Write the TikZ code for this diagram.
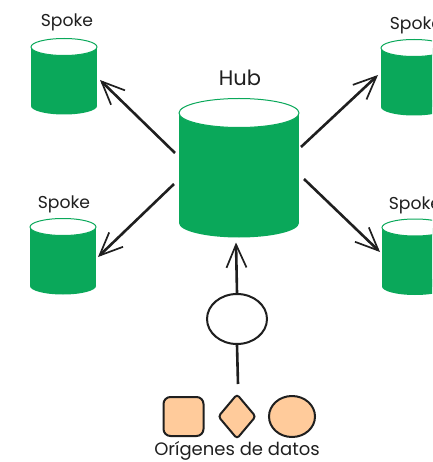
\documentclass[tikz,border=0pt]{standalone}
\usepackage{fontspec}
\setmainfont{Poppins}
\usetikzlibrary{shapes.geometric,arrows.meta}
\definecolor{store}{HTML}{0AA85A}
\definecolor{source}{HTML}{FFCB9B}
\colorlet{fg}{black!88}
\tikzset{
	db/.style={inner sep=0pt,outer sep=0pt},
	link/.style={draw=fg,line width=2.6pt,-{Straight Barb[length=23pt,width=20pt,line width=1.7pt]}},
	src/.style={draw=fg,fill=source,line width=2pt,inner sep=0pt},
	caption/.style={text=fg,inner sep=0pt,font=\fontsize{17.2}{18}\selectfont}
}

\begin{document}
\begin{tikzpicture}[x=1pt,y=-1pt]
	    \useasboundingbox (0,0) rectangle (432,462);
	    \clip (0,0) rectangle (432,462);
	    \foreach \name/\cx/\cy/\rx/\ry/\hh in {hub/239/168/60/14.5/69.5,spoketl/64/76.5/33/8.5/38,spokebl/63/256.5/33/8.5/38,spoketr/414/77.5/33/8.5/38,spokebr/415/257/33/8.5/38} {
	    \node[db,minimum width=2*\rx pt,minimum height=2*\hh pt] (\name) at (\cx,\cy) {};
	    \fill[store] (\name.north west) ++(0,\ry) rectangle ([shift={(0,-\ry)}]\name.south east);
	    \fill[store] ([shift={(0,-\ry)}]\name.south) ellipse[x radius=\rx,y radius=\ry];
	    \draw[store,fill=white,line width=1pt] ([shift={(0,\ry)}]\name.north) ellipse[x radius=\rx,y radius=\ry];
	    }
	    \node[caption,font=\fontsize{21}{21}\selectfont] (hublabel) at (240,78) {Hub};
	    \node[caption] (labeltl) at (67,22) {Spoke};
	    \node[caption] (labelbl) at (64,204) {Spoke};
	    \node[caption] (labeltr) at (416,25) {Spoke};
	    \node[caption] (labelbr) at (415,205) {Spoke};
	    \node[draw=fg,fill=white,line width=2pt,ellipse,minimum width=60pt,minimum height=50pt,inner sep=0pt] (ingest) at (237,319) {};
	    \node[src,rounded corners=7pt,minimum width=40pt,minimum height=39pt] (srcsquare) at (183.5,416.5) {};
	    \node[src,diamond,minimum width=38pt,minimum height=45pt,rounded corners=3pt] (srcdiamond) at (237,416.5) {};
	    \node[src,ellipse,minimum width=46pt,minimum height=41pt] (srccircle) at (292,416.5) {};
	    \node[caption,font=\fontsize{18}{19}\selectfont] (sources) at (237,451) {Orígenes de datos};
	    \coordinate (srctop) at (238,384);
	    \draw[link] ([shift={(-4,-15)}]hub.west) -- ([shift={(3,3.5)}]spoketl.east);
	    \draw[link] ([shift={(-5,16)}]hub.west) -- ([shift={(2,0.5)}]spokebl.east);
	    \draw[link] ([shift={(2,-21)}]hub.east) -- ([shift={(-3,-2.5)}]spoketr.west);
	    \draw[link] ([shift={(5,11)}]hub.east) -- ([shift={(-2,-5)}]spokebr.west);
	    \draw[link] (ingest.north) -- ([shift={(-3,5)}]hub.south);
	    \draw[draw=fg,line width=2.6pt] (ingest.south) -- (srctop);
\end{tikzpicture}
\end{document}
